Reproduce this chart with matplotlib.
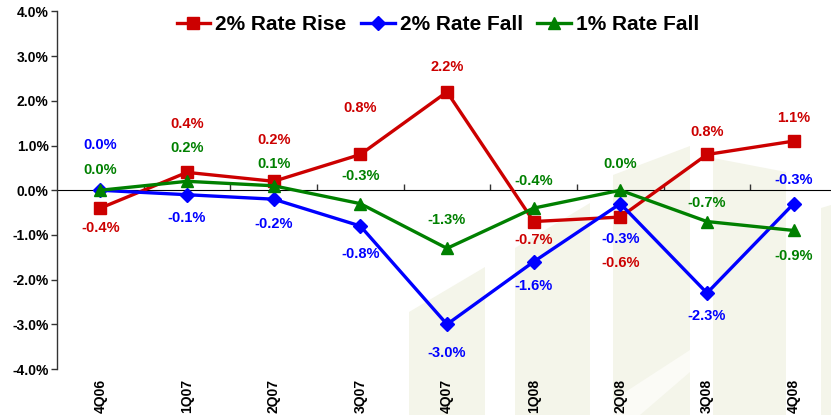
import numpy as np
import matplotlib.pyplot as plt
from matplotlib.patches import Polygon

# DATA
quarters = ['4Q06', '1Q07', '2Q07', '3Q07', '4Q07', '1Q08', '2Q08', '3Q08', '4Q08']
rate_rise_2 = [-0.4, 0.4, 0.2, 0.8, 2.2, -0.7, -0.6, 0.8, 1.1]
rate_fall_2 = [0.0, -0.1, -0.2, -0.8, -3.0, -1.6, -0.3, -2.3, -0.3]
rate_fall_1 = [0.0, 0.2, 0.1, -0.3, -1.3, -0.4, 0.0, -0.7, -0.9]

# label offsets in pixels (positive = above the point)
red_off = [-20, 48, 41, 46, 25, -18, -46, 23, 23]
blue_off = [45, -23, -25, -28, -29, -24, -35, -23, 24]
green_off = [20, 33, 22, 28, 28, 27, 26, 19, -26]

RED = '#CC0000'
BLUE = '#0000FF'
GREEN = '#008000'

plt.rcParams['font.family'] = ['Liberation Sans', 'DejaVu Sans']

W, H = 831, 415
fig = plt.figure(figsize=(W / 100, H / 100), dpi=100)
ax = fig.add_axes([57 / W, 46 / H, 780 / W, 357.5 / H])
ax.patch.set_alpha(0)

# faint watermark columns in the background (pixel coords, y from top)
wm = [
    [(409, 415), (409, 312), (485, 267), (485, 415)],
    [(515, 415), (515, 248), (590, 203), (590, 415)],
    [(613, 415), (613, 175), (690, 146), (690, 415)],
    [(713, 415), (713, 158), (786, 172), (786, 415)],
    [(821, 415), (821, 208), (831, 205), (831, 415)],
]
for poly in wm:
    pts = [(px / W, 1 - py / H) for px, py in poly]
    fig.add_artist(Polygon(pts, closed=True, transform=fig.transFigure,
                           facecolor='#F4F5EA', edgecolor='none', zorder=-2))
# white diagonal band across one column
band = [(613, 400), (690, 350), (690, 372), (640, 415), (613, 415)]
fig.add_artist(Polygon([(px / W, 1 - py / H) for px, py in band], closed=True,
                       transform=fig.transFigure, facecolor='#FBFBF6',
                       edgecolor='none', zorder=-1))

x = np.arange(len(quarters))
series = [
    (rate_rise_2, '2% Rate Rise', RED, 's', 8.5, red_off),
    (rate_fall_2, '2% Rate Fall', BLUE, 'D', 7, blue_off),
    (rate_fall_1, '1% Rate Fall', GREEN, '^', 9, green_off),
]
handles = []
for vals, name, col, mk, ms, offs in series:
    h, = ax.plot(x, vals, color=col, lw=2.4, marker=mk, markersize=ms,
                 markeredgecolor=col, label=name, zorder=3, clip_on=False)
    handles.append(h)
    for xi, v, o in zip(x, vals, offs):
        ax.annotate(f'{v:.1f}%', (xi, v), xytext=(0, o), textcoords='offset pixels',
                    ha='center', va='center', color=col, fontsize=10.5,
                    fontweight='bold', zorder=4)

ax.set_xlim(-0.5, len(quarters) - 0.5)
ax.set_ylim(-4, 4)
ax.set_yticks(np.arange(-4, 5, 1))
ax.set_yticklabels([f'{v:.1f}%' for v in np.arange(-4, 5, 1)], fontsize=10,
                   fontweight='bold')
ax.tick_params(axis='y', direction='out', length=4, width=1, color='#333333', pad=2)

ax.set_xticks(x)
ax.set_xticklabels(quarters, rotation=90, fontsize=10, fontweight='bold', va='top')
ax.tick_params(axis='x', length=0, pad=7)

for s in ['top', 'right', 'bottom']:
    ax.spines[s].set_visible(False)
ax.spines['left'].set_color('#333333')
ax.spines['left'].set_linewidth(1)

# zero line axis with category boundary ticks
sec = ax.secondary_xaxis(0.5)
sec.set_xticks(np.arange(0.5, len(quarters) - 0.5, 1))
sec.set_xticklabels([])
sec.tick_params(direction='out', length=4, width=1, color='#333333')
sec.spines['bottom'].set_color('#333333')
sec.spines['bottom'].set_linewidth(1)

leg = fig.legend(handles=handles, loc='center', bbox_to_anchor=(438 / W, 1 - 25 / H),
                 ncol=3, frameon=False, prop={'weight': 'bold', 'size': 15},
                 handlelength=1.6, handletextpad=0.25, columnspacing=0.7)

fig.savefig('out.png', dpi=100)
